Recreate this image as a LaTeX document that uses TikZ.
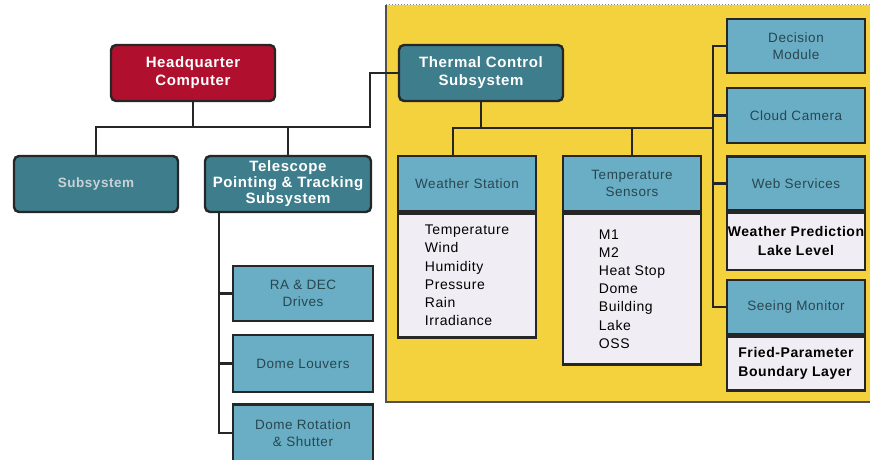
\documentclass[tikz,border=0pt]{standalone}
\usepackage{fontspec}
\setmainfont[LetterSpace=4]{Liberation Sans}
\usetikzlibrary{positioning}

\definecolor{hqred}{HTML}{B0102E}
\definecolor{darkteal}{HTML}{3D7D8C}
\definecolor{lightblue}{HTML}{6AAEC5}
\definecolor{paleback}{HTML}{F0EEF4}
\definecolor{panelyellow}{HTML}{F4D23E}
\definecolor{wirecol}{HTML}{262626}
\definecolor{headtext}{HTML}{284650}
\definecolor{greytext}{HTML}{C9D2D6}

\begin{document}
\begin{tikzpicture}[
  x=1pt, y=-1pt,
  node distance=0pt,
  wire/.style={draw=wirecol, line width=2.6pt},
  topbox/.style={draw=wirecol, line width=2.4pt, rounded corners=5pt, text=white,
    font=\fontsize{15}{18}\selectfont\bfseries, align=center,
    minimum width=164pt, minimum height=56pt, inner sep=1pt},
  subbox/.style={topbox, fill=darkteal},
  modbox/.style={draw=wirecol, line width=2.4pt, fill=lightblue, text=headtext,
    font=\fontsize{13.5}{16.5}\selectfont, align=center,
    minimum width=138pt, minimum height=55pt, inner sep=1pt},
  listbox/.style={draw=wirecol, line width=2.4pt, fill=paleback, text=black,
    font=\fontsize{14}{18.2}\selectfont, align=left,
    minimum width=138pt, inner xsep=0pt}
]
\useasboundingbox (0,0) rectangle (870,460);

% yellow panel
\fill[panelyellow] (386,5) rectangle (870,402);
\draw[gray, dotted, line width=1pt] (386,5) -- (870,5);
\draw[wirecol!80, line width=1.2pt] (386,5) -- (386,402) -- (870,402);

% top level
\node[topbox, fill=hqred] (hq) at (193,73) {Headquarter\\Computer};
\node[subbox, text=greytext, font=\fontsize{13.5}{16}\selectfont\bfseries] (sub) at (96,184) {Subsystem};
\node[subbox, minimum width=166pt, font=\fontsize{15}{16}\selectfont\bfseries] (tpts) at (288,184)
  {Telescope\\Pointing \& Tracking\\Subsystem};
\node[subbox] (thermal) at (481,73) {Thermal Control\\Subsystem};

\coordinate (hqj) at (193,127);
\coordinate (bend) at (370,127);
\draw[wire] (hq.south) -- (hqj);
\draw[wire] (sub.north) -- (sub.north |- hqj) -- (bend) |- (thermal.west);
\draw[wire] (tpts.north) -- (tpts.north |- hqj);

% telescope pointing & tracking
\node[modbox, minimum width=140pt] (radec) at (303,293.5) {RA \& DEC\\Drives};
\node[modbox, minimum width=140pt, minimum height=57pt] (louver) at (303,363.5) {Dome Louvers};
\node[modbox, minimum width=140pt, minimum height=57pt] (rotation) at (303,433) {Dome Rotation\\\& Shutter};

\coordinate (tpspine) at (219,0);
\draw[wire] (tpts.south -| tpspine) -- (rotation.west -| tpspine) -- (rotation.west);
\draw[wire] (radec.west) -- (radec.west -| tpspine);
\draw[wire] (louver.west) -- (louver.west -| tpspine);

% thermal control
\node[modbox] (wshead) at (467,183.5) {Weather Station};
\node[listbox, minimum height=124pt, below=of wshead] (wsbody)
  {Temperature\\Wind\\Humidity\\Pressure\\Rain\\Irradiance};
\node[modbox] (tshead) at (632,183.5) {Temperature\\Sensors};
\node[listbox, minimum height=151pt, below=of tshead] (tsbody)
  {M1\\M2\\Heat Stop\\Dome\\Building\\Lake\\OSS};

\node[modbox, minimum height=54pt] (decision) at (796,46) {Decision\\Module};
\node[modbox] (cloud) at (796,115.5) {Cloud Camera};
\node[modbox, minimum height=54pt] (webhead) at (796,183.5) {Web Services};
\node[listbox, minimum height=57pt, align=center, font=\fontsize{14}{19}\selectfont\bfseries,
  below=of webhead] (webbody) {Weather Prediction\\Lake Level};
\node[modbox, minimum height=54pt] (seehead) at (796,307) {Seeing Monitor};
\node[listbox, minimum height=54pt, font=\fontsize{14}{19}\selectfont\bfseries,
  below=of seehead] (seebody) {Fried-Parameter\\Boundary Layer};

\coordinate (tcj) at (481,128);
\coordinate (wsdrop) at (453,128);
\coordinate (spine) at (713,0);
\draw[wire] (thermal.south) -- (tcj);
\draw[wire] (wshead.north -| wsdrop) -- (wsdrop) -- (tcj -| spine);
\draw[wire] (tshead.north) -- (tshead.north |- tcj);
\draw[wire] (decision.west) -- (decision.west -| spine) -- (seehead.west -| spine) -- (seehead.west);
\draw[wire] (cloud.west) -- (cloud.west -| spine);
\draw[wire] (webhead.west) -- (webhead.west -| spine);
\end{tikzpicture}
\end{document}
